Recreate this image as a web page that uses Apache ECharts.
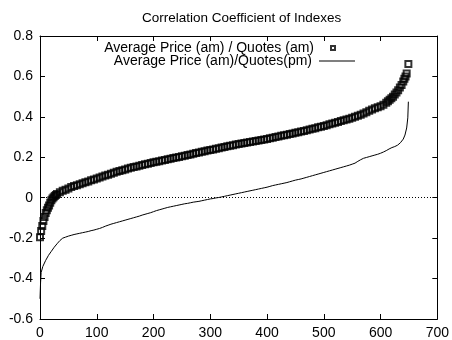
<!DOCTYPE html>
<html>
<head>
<meta charset="utf-8">
<script src="https://cdn.jsdelivr.net/npm/echarts@6/dist/echarts.min.js"></script>
<style>
  html, body { margin: 0; padding: 0; background: #fff; }
  #chart { width: 452px; height: 340px; }
</style>
</head>
<body>
<div id="chart"></div>
<script>
// sorted correlation values
var amIdx = [0, 2, 4, 6, 8, 10, 12, 14, 16, 18, 20, 22, 24, 26, 28, 30, 35, 40, 45, 50, 55, 60, 65, 70, 75, 80, 85, 90, 95,
  100, 105, 110, 115, 120, 125, 130, 135, 140, 145, 150, 155, 160, 165, 170, 175, 180, 185, 190, 195,
  200, 205, 210, 215, 220, 225, 230, 235, 240, 245, 250, 255, 260, 265, 270, 275, 280, 285, 290, 295,
  300, 305, 310, 315, 320, 325, 330, 335, 340, 345, 350, 355, 360, 365, 370, 375, 380, 385, 390, 395,
  400, 405, 410, 415, 420, 425, 430, 435, 440, 445, 450, 455, 460, 465, 470, 475, 480, 485, 490, 495,
  500, 505, 510, 515, 520, 525, 530, 535, 540, 545, 550, 555, 560, 565, 570, 575, 580, 585, 590, 595,
  600, 605, 610, 613, 616, 619, 622, 625, 628, 631, 634, 637, 640, 642, 644, 646, 649];
var amVal = [-0.195, -0.165, -0.14, -0.115, -0.095, -0.075, -0.062, -0.05, -0.038, -0.025, -0.012, -0.004, 0.002, 0.008, 0.013, 0.018,
  0.027, 0.034, 0.040,
  0.046, 0.053, 0.058, 0.062, 0.067, 0.071, 0.076, 0.080, 0.086, 0.090,
  0.095, 0.100, 0.105, 0.110, 0.114, 0.119, 0.123, 0.128, 0.132, 0.136,
  0.140, 0.144, 0.148, 0.152, 0.155, 0.158, 0.162, 0.165, 0.168, 0.172,
  0.175, 0.178, 0.181, 0.184, 0.187, 0.190, 0.193, 0.196, 0.199, 0.202,
  0.205, 0.208, 0.211, 0.214, 0.218, 0.221, 0.224, 0.227, 0.230, 0.233,
  0.236, 0.239, 0.242, 0.245, 0.248, 0.251, 0.254, 0.257, 0.260, 0.263,
  0.266, 0.268, 0.271, 0.273, 0.276, 0.278, 0.281, 0.283, 0.286, 0.288,
  0.291, 0.294, 0.297, 0.300, 0.303, 0.306, 0.309, 0.312, 0.315, 0.318,
  0.321, 0.324, 0.327, 0.330, 0.334, 0.337, 0.341, 0.344, 0.348, 0.351,
  0.355, 0.359, 0.363, 0.367, 0.371, 0.375, 0.379, 0.383, 0.387, 0.391,
  0.396, 0.401, 0.406, 0.411, 0.417, 0.423, 0.430, 0.436, 0.442, 0.447,
  0.452, 0.460, 0.470, 0.477, 0.485, 0.492, 0.500, 0.510, 0.520, 0.532, 0.545, 0.558, 0.575, 0.588, 0.600, 0.615, 0.662];

var pmIdx = [0, 1, 2, 5, 10, 15, 20, 25, 30, 35, 40, 45, 50, 55, 60, 65, 70, 75, 80, 85, 90, 95,
  100, 105, 110, 115, 120, 125, 130, 135, 140, 145, 150, 155, 160, 165, 170, 175, 180, 185, 190, 195,
  200, 205, 210, 215, 220, 225, 230, 235, 240, 245, 250, 255, 260, 265, 270, 275, 280, 285, 290, 295,
  300, 305, 310, 315, 320, 325, 330, 335, 340, 345, 350, 355, 360, 365, 370, 375, 380, 385, 390, 395,
  400, 405, 410, 415, 420, 425, 430, 435, 440, 445, 450, 455, 460, 465, 470, 475, 480, 485, 490, 495,
  500, 505, 510, 515, 520, 525, 530, 535, 540, 545, 550, 555, 560, 565, 570, 575, 580, 585, 590, 595,
  600, 605, 610, 615, 620, 625, 630, 635, 640, 643, 646, 648, 649];
var pmVal = [-0.50, -0.42, -0.37, -0.34, -0.31, -0.285, -0.265, -0.245, -0.228, -0.212, -0.200, -0.195,
  -0.190, -0.186, -0.182, -0.179, -0.176, -0.173, -0.170, -0.167, -0.163, -0.160,
  -0.156, -0.152, -0.147, -0.141, -0.136, -0.131, -0.127, -0.123, -0.119, -0.115,
  -0.111, -0.107, -0.103, -0.099, -0.095, -0.091, -0.086, -0.082, -0.078, -0.074,
  -0.069, -0.064, -0.060, -0.056, -0.052, -0.048, -0.045, -0.042, -0.039, -0.036,
  -0.033, -0.030, -0.028, -0.025, -0.022, -0.020, -0.018, -0.015, -0.012, -0.009,
  -0.006, -0.004, -0.001, 0.001, 0.004, 0.007, 0.010, 0.013, 0.016, 0.019,
  0.022, 0.025, 0.028, 0.031, 0.034, 0.037, 0.040, 0.043, 0.046, 0.049,
  0.052, 0.056, 0.060, 0.063, 0.066, 0.069, 0.072, 0.075, 0.079, 0.083,
  0.087, 0.090, 0.093, 0.097, 0.101, 0.105, 0.109, 0.113, 0.117, 0.121,
  0.125, 0.129, 0.133, 0.137, 0.141, 0.145, 0.149, 0.153, 0.157, 0.161,
  0.166, 0.171, 0.180, 0.188, 0.195, 0.199, 0.203, 0.207, 0.211, 0.215,
  0.220, 0.226, 0.233, 0.241, 0.248, 0.253, 0.260, 0.272, 0.290, 0.310, 0.345, 0.395, 0.475];

var amName = "Average Price (am) / Quotes (am)";
var pmName = "Average Price (am)/Quotes(pm)";

function pairs(xs, ys) {
  return xs.map(function (x, i) { return [x, ys[i]]; });
}

var font = "Liberation Sans, Arial, sans-serif";
var chart = echarts.init(document.getElementById("chart"));

var line = { show: true, onZero: false, lineStyle: { color: "#000", width: 1 } };

chart.setOption({
  animation: false,
  title: {
    text: "Correlation Coefficient of Indexes",
    left: 137,
    top: 6,
    textStyle: { fontFamily: font, fontSize: 13.5, fontWeight: "normal", color: "#000" }
  },
  legend: [
    {
      data: [amName],
      right: 111,
      top: 36,
      align: "right",
      itemWidth: 4,
      itemHeight: 4,
      textStyle: { fontFamily: font, fontSize: 14, color: "#000", padding: [0, 12, 0, 0] }
    },
    {
      data: [{ name: pmName, icon: "rect" }],
      right: 92,
      top: 49,
      align: "right",
      itemWidth: 36,
      itemHeight: 1,
      textStyle: { fontFamily: font, fontSize: 14, color: "#000", padding: [0, 2, 0, 0] }
    }
  ],
  grid: { left: 40, right: 12, top: 36, bottom: 20 },
  xAxis: [
    {
      type: "value", min: 0, max: 700, interval: 100, z: 10,
      axisLine: line, splitLine: { show: false },
      axisTick: { show: true, inside: true, length: 5, lineStyle: { color: "#000", width: 1 } },
      axisLabel: { color: "#000", fontFamily: font, fontSize: 14, margin: 7 }
    },
    {
      type: "value", position: "top", min: 0, max: 700, interval: 100, z: 10,
      axisLine: line, splitLine: { show: false },
      axisTick: { show: true, inside: true, length: 5, lineStyle: { color: "#000", width: 1 } },
      axisLabel: { show: false }
    }
  ],
  yAxis: [
    {
      type: "value", min: -0.6, max: 0.8, interval: 0.2, z: 10,
      axisLine: line, splitLine: { show: false },
      axisTick: { show: true, inside: true, length: 5, lineStyle: { color: "#000", width: 1 } },
      axisLabel: { color: "#000", fontFamily: font, fontSize: 14, margin: 7 }
    },
    {
      type: "value", position: "right", min: -0.6, max: 0.8, interval: 0.2, z: 10,
      axisLine: line, splitLine: { show: false },
      axisTick: { show: true, inside: true, length: 5, lineStyle: { color: "#000", width: 1 } },
      axisLabel: { show: false }
    }
  ],
  series: [
    {
      name: amName,
      type: "scatter",
      symbol: "rect",
      symbolSize: 6,
      itemStyle: { color: "rgba(0,0,0,0)", borderColor: "#000", borderWidth: 2 },
      data: pairs(amIdx, amVal),
      markLine: {
        silent: true,
        symbol: "none",
        label: { show: false },
        lineStyle: { color: "#000", type: [1, 2], width: 1 },
        data: [{ yAxis: 0 }]
      }
    },
    {
      name: pmName,
      type: "line",
      symbol: "none",
      lineStyle: { color: "#000", width: 1 },
      itemStyle: { color: "#000" },
      data: pairs(pmIdx, pmVal)
    }
  ]
});
</script>
</body>
</html>
